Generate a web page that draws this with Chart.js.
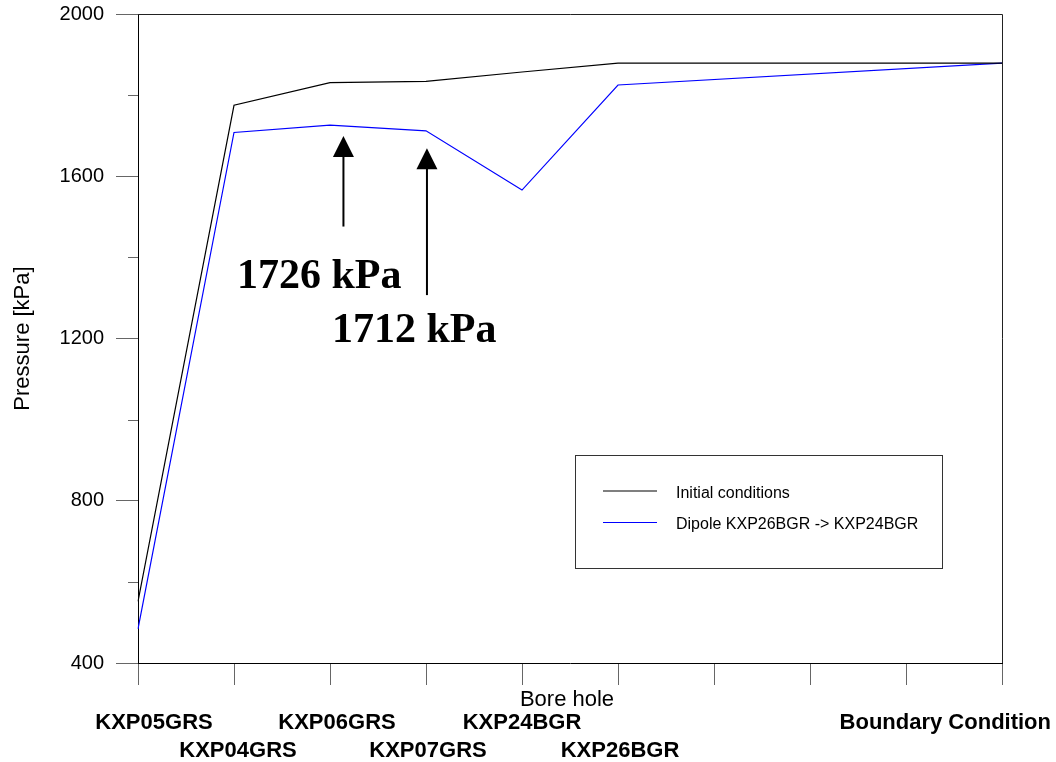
<!DOCTYPE html>
<html>
<head>
<meta charset="utf-8">
<title>Pressure along bore holes</title>
<script src="https://cdn.jsdelivr.net/npm/chart.js@4.4.0/dist/chart.umd.min.js"></script>
<style>
  html, body { margin: 0; padding: 0; background: #fff; }
  canvas { display: block; }
</style>
</head>
<body>
<canvas id="pressure" width="1056" height="762"></canvas>
<script>
// bore holes along x (three empty slots before the boundary)
const BORE_HOLES = ["KXP05GRS", "KXP04GRS", "KXP06GRS", "KXP07GRS", "KXP24BGR", "KXP26BGR", "", "", "", "Boundary Condition"];

// pressure in kPa, null where there is no bore hole
const INITIAL = [552, 1775, 1831, 1834, 1857, 1879, null, null, null, 1879];
const DIPOLE  = [484, 1708, 1726, 1712, 1566, 1825, null, null, null, 1879];

const SERIES_NAMES = ["Initial conditions", "Dipole KXP26BGR -> KXP24BGR"];
const SERIES_COLORS = ["#000000", "#0000ff"];

const Y_MIN = 400, Y_MAX = 2000, Y_STEP = 400;
const Y_MINOR = [600, 1000, 1400, 1800];

// arrows under the dipole curve: slot, tip and tail in kPa
const ARROWS = [
  { x: 2.14, tip: 1699, tail: 1476 },
  { x: 3.01, tip: 1669, tail: 1307 }
];
// callout text, value read from DIPOLE[idx]
const CALLOUTS = [
  { idx: 2, x: 1.03, y: 1324 },
  { idx: 3, x: 2.02, y: 1192 }
];

// bore hole names are staggered on two rows
const LABEL_ROW = [0, 1, 0, 1, 0, 1, 0, 0, 0, 0];
const LABEL_NUDGE = [16, 4, 7, 2, 0, 2, 0, 0, 0, 0];

Chart.defaults.font.family = "'Liberation Sans', Arial, sans-serif";
Chart.defaults.color = "#000";

function $(id){ return document.getElementById(id); }

const decor = {
  id: "decor",
  afterDatasetsDraw(chart){
    const { ctx, chartArea: a, scales: { x, y } } = chart;
    ctx.save();

    // top and right edges of the frame
    ctx.strokeStyle = "#222";
    ctx.lineWidth = 1;
    ctx.beginPath();
    ctx.moveTo(a.left, a.top + 0.5);
    ctx.lineTo(a.right + 0.5, a.top + 0.5);
    ctx.lineTo(a.right + 0.5, a.bottom);
    ctx.stroke();

    // minor ticks on the pressure axis
    ctx.strokeStyle = "#666";
    for (const v of Y_MINOR){
      const py = Math.round(y.getPixelForValue(v)) + 0.5;
      ctx.beginPath();
      ctx.moveTo(a.left - 10, py);
      ctx.lineTo(a.left, py);
      ctx.stroke();
    }

    // arrows
    ctx.strokeStyle = "#000";
    ctx.fillStyle = "#000";
    for (const ar of ARROWS){
      const px = x.getPixelForValue(ar.x);
      const tipY = y.getPixelForValue(ar.tip);
      const tailY = y.getPixelForValue(ar.tail);
      ctx.lineWidth = 2;
      ctx.beginPath();
      ctx.moveTo(px, tailY);
      ctx.lineTo(px, tipY + 18);
      ctx.stroke();
      ctx.beginPath();
      ctx.moveTo(px, tipY);
      ctx.lineTo(px - 10.5, tipY + 21);
      ctx.lineTo(px + 10.5, tipY + 21);
      ctx.closePath();
      ctx.fill();
    }

    // callouts
    ctx.font = "bold 42px 'Liberation Serif', 'Times New Roman', serif";
    ctx.textAlign = "left";
    ctx.textBaseline = "alphabetic";
    for (const c of CALLOUTS){
      ctx.fillText(`${DIPOLE[c.idx]} kPa`, x.getPixelForValue(c.x), y.getPixelForValue(c.y));
    }

    // legend box
    const box = { x: 575.5, y: 455.5, w: 367, h: 113 };
    ctx.fillStyle = "#fff";
    ctx.fillRect(box.x, box.y, box.w, box.h);
    ctx.strokeStyle = "#333";
    ctx.lineWidth = 1;
    ctx.strokeRect(box.x, box.y, box.w, box.h);
    ctx.font = "16px 'Liberation Sans', Arial, sans-serif";
    chart.data.datasets.forEach((ds, i) => {
      const ly = 491 + i * 31.5;
      ctx.strokeStyle = ds.borderColor;
      ctx.lineWidth = 1.2;
      ctx.beginPath();
      ctx.moveTo(603, ly);
      ctx.lineTo(657, ly);
      ctx.stroke();
      ctx.fillStyle = "#000";
      ctx.fillText(ds.label, 676, ly + 6.5);
    });

    ctx.restore();
  },
  afterDraw(chart){
    const { ctx, chartArea: a, scales: { x } } = chart;
    ctx.save();
    ctx.fillStyle = "#000";
    ctx.textBaseline = "alphabetic";
    ctx.textAlign = "center";

    ctx.font = "22px 'Liberation Sans', Arial, sans-serif";
    ctx.fillText("Bore hole", (a.left + a.right) / 2 - 3, 706);

    ctx.font = "bold 22px 'Liberation Sans', Arial, sans-serif";
    BORE_HOLES.forEach((name, i) => {
      if (!name) return;
      const w = ctx.measureText(name).width;
      let cx = x.getPixelForValue(i) + LABEL_NUDGE[i];
      cx = Math.min(cx, chart.width - 5 - w / 2);
      ctx.fillText(name, cx, LABEL_ROW[i] ? 757 : 729);
    });
    ctx.restore();
  }
};

new Chart($("pressure"), {
  type: "line",
  data: {
    labels: BORE_HOLES,
    datasets: [
      { label: SERIES_NAMES[0], data: INITIAL, borderColor: SERIES_COLORS[0] },
      { label: SERIES_NAMES[1], data: DIPOLE, borderColor: SERIES_COLORS[1] }
    ].map(ds => Object.assign(ds, {
      borderWidth: 1.2,
      pointRadius: 0,
      tension: 0,
      fill: false,
      spanGaps: true
    }))
  },
  options: {
    responsive: false,
    animation: false,
    devicePixelRatio: 1,
    layout: { padding: { top: 14, right: 54, left: 0, bottom: 0 } },
    plugins: {
      legend: { display: false },
      tooltip: { enabled: false }
    },
    scales: {
      x: {
        type: "category",
        offset: false,
        ticks: { display: false },
        grid: { drawOnChartArea: false, drawTicks: true, tickLength: 22, color: "#666" },
        border: { display: true, color: "#000", width: 1 },
        afterFit(s){ s.height = 99; s.paddingLeft = 0; s.paddingRight = 0; }
      },
      y: {
        min: Y_MIN,
        max: Y_MAX,
        ticks: {
          stepSize: Y_STEP,
          padding: 12,
          font: { size: 20 },
          color: "#000",
          callback: v => String(v)
        },
        grid: { drawOnChartArea: false, drawTicks: true, tickLength: 22, color: "#666" },
        border: { display: true, color: "#000", width: 1 },
        title: {
          display: true,
          text: "Pressure [kPa]",
          font: { size: 22 },
          color: "#000",
          padding: { top: 10, bottom: 0 }
        },
        afterFit(s){ s.width = 138; s.paddingTop = 0; s.paddingBottom = 0; }
      }
    }
  },
  plugins: [decor]
});
</script>
</body>
</html>
